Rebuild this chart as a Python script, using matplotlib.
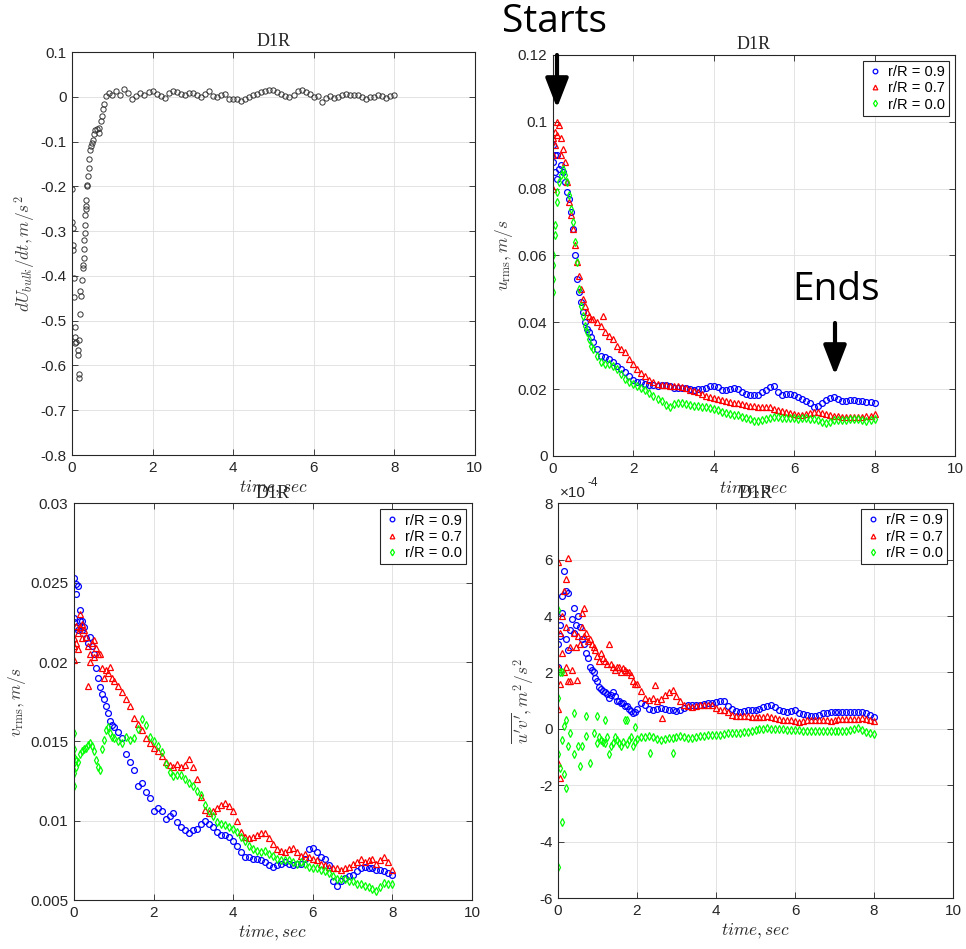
import numpy as np
import matplotlib.pyplot as plt
from matplotlib.ticker import FuncFormatter
from matplotlib.patches import FancyArrowPatch

plt.rcParams["font.family"] = ["Liberation Sans", "DejaVu Sans"]
plt.rcParams["mathtext.fontset"] = "cm"
plt.rcParams["axes.unicode_minus"] = False

#common sample times for the slow part of each record
t_from1 = [1.0, 1.1, 1.2, 1.3, 1.4, 1.5, 1.6, 1.7, 1.8, 1.9,
           2.0, 2.1, 2.2, 2.3, 2.4, 2.5, 2.6, 2.7, 2.8, 2.9,
           3.0, 3.1, 3.2, 3.3, 3.4, 3.5, 3.6, 3.7, 3.8, 3.9,
           4.0, 4.1, 4.2, 4.3, 4.4, 4.5, 4.6, 4.7, 4.8, 4.9,
           5.0, 5.1, 5.2, 5.3, 5.4, 5.5, 5.6, 5.7, 5.8, 5.9,
           6.0, 6.1, 6.2, 6.3, 6.4, 6.5, 6.6, 6.7, 6.8, 6.9,
           7.0, 7.1, 7.2, 7.3, 7.4, 7.5, 7.6, 7.7, 7.8, 7.9,
           8.0]
t_from2 = t_from1[10:]

#dU_bulk/dt
t_dudt_start = [0.0, 0.0, 0.017, 0.033, 0.033, 0.05, 0.05, 0.066, 0.066, 0.083, 0.1, 0.14, 0.157, 0.165,
                0.165, 0.18, 0.2, 0.2, 0.215, 0.24, 0.264, 0.28, 0.29, 0.29, 0.306, 0.32, 0.32, 0.33,
                0.347, 0.347, 0.347, 0.364, 0.38, 0.4, 0.413, 0.43, 0.446, 0.47, 0.5, 0.51, 0.55, 0.58,
                0.61, 0.66, 0.68, 0.72, 0.74, 0.78, 0.8, 0.84, 0.93]
dudt_start = [-0.207, -0.28, -0.293, -0.33, -0.343, -0.405, -0.448, -0.514, -0.55, -0.537, -0.547,
              -0.566, -0.577, -0.618, -0.629, -0.542, -0.485, -0.434, -0.445, -0.409, -0.383, -0.375,
              -0.359, -0.339, -0.319, -0.304, -0.287, -0.263, -0.251, -0.243, -0.23, -0.199, -0.196,
              -0.178, -0.159, -0.14, -0.119, -0.109, -0.103, -0.096, -0.084, -0.075, -0.073, -0.081,
              -0.069, -0.054, -0.043, -0.028, -0.017, 0.001, 0.009]
dudt_rest = [0.005, 0.012, 0.005, 0.018, 0.009, -0.006, 0.001, 0.009, 0.005, 0.010,
             0.012, 0.007, 0.001, -0.003, 0.009, 0.012, 0.010, 0.007, 0.005, 0.009,
             0.009, 0.003, -0.001, 0.007, 0.013, 0.001, 0.000, 0.003, 0.007, -0.006,
             -0.004, -0.004, -0.009, -0.006, 0.000, 0.003, 0.007, 0.010, 0.012, 0.016,
             0.015, 0.010, 0.007, 0.001, 0.000, 0.005, 0.012, 0.015, 0.010, 0.007,
             0.000, 0.001, -0.012, -0.003, 0.001, -0.003, 0.000, 0.003, 0.007, 0.005,
             0.003, 0.005, 0.000, -0.004, -0.001, 0.000, 0.003, 0.001, -0.002, 0.001,
             0.003]

#u_rms, start of record
t_u09_start = [0, 0, 0.05, 0.05, 0.1, 0.1, 0.15, 0.2, 0.25, 0.3, 0.35, 0.4, 0.45, 0.5, 0.55, 0.6, 0.65,
               0.7, 0.75, 0.8, 0.85, 0.9, 0.95, 1.0, 1.1, 1.2, 1.3, 1.4, 1.5, 1.6, 1.7, 1.8, 1.9]
u09_start = [0.088, 0.093, 0.085, 0.09, 0.09, 0.083, 0.086, 0.087, 0.085, 0.082, 0.079, 0.077, 0.073,
             0.068, 0.06, 0.053, 0.049, 0.046, 0.043, 0.04, 0.038, 0.037, 0.0355, 0.034, 0.032, 0.03,
             0.0295, 0.029, 0.028, 0.027, 0.026, 0.025, 0.024]
t_u07_start = [0, 0, 0, 0.05, 0.05, 0.1, 0.1, 0.15, 0.2, 0.2, 0.25, 0.3, 0.35, 0.4, 0.45, 0.5, 0.55,
               0.6, 0.65, 0.7, 0.75, 0.8, 0.85, 0.9, 0.95, 1.0, 1.1, 1.2, 1.25, 1.3, 1.4, 1.5, 1.6,
               1.7, 1.8, 1.9]
u07_start = [0.08, 0.09, 0.095, 0.097, 0.093, 0.1, 0.096, 0.099, 0.095, 0.09, 0.092, 0.088, 0.082,
             0.076, 0.072, 0.068, 0.063, 0.058, 0.054, 0.05, 0.047, 0.045, 0.043, 0.042, 0.041, 0.041,
             0.04, 0.039, 0.042, 0.037, 0.036, 0.035, 0.033, 0.032, 0.031, 0.029]
t_u00_start = [0, 0, 0, 0, 0.05, 0.05, 0.1, 0.1, 0.15, 0.2, 0.25, 0.3, 0.35, 0.4, 0.45, 0.5, 0.55, 0.6,
               0.65, 0.7, 0.75, 0.8, 0.85, 0.9, 0.95, 1.0, 1.1, 1.2, 1.3, 1.4, 1.5, 1.6, 1.7, 1.8, 1.9]
u00_start = [0.049, 0.053, 0.057, 0.06, 0.066, 0.069, 0.076, 0.079, 0.082, 0.084, 0.086, 0.084, 0.082,
             0.078, 0.074, 0.07, 0.064, 0.058, 0.05, 0.045, 0.042, 0.039, 0.037, 0.035, 0.033, 0.032,
             0.03, 0.028, 0.0275, 0.0275, 0.027, 0.026, 0.0245, 0.023, 0.022]

#u_rms from t = 2 s
u09_rest = [0.0228, 0.0222, 0.0220, 0.0216, 0.0213, 0.0212, 0.0210, 0.0212, 0.0213, 0.0208,
            0.0203, 0.0202, 0.0203, 0.0202, 0.0200, 0.0198, 0.0200, 0.0199, 0.0203, 0.0208,
            0.0210, 0.0205, 0.0198, 0.0196, 0.0199, 0.0203, 0.0200, 0.0192, 0.0186, 0.0184,
            0.0183, 0.0184, 0.0190, 0.0198, 0.0205, 0.0208, 0.0192, 0.0183, 0.0186, 0.0186,
            0.0183, 0.0176, 0.0172, 0.0165, 0.0158, 0.0147, 0.0150, 0.0160, 0.0168, 0.0174,
            0.0176, 0.0171, 0.0166, 0.0166, 0.0168, 0.0167, 0.0164, 0.0166, 0.0163, 0.0162,
            0.0158]
u07_rest = [0.0275, 0.0260, 0.0248, 0.0238, 0.0228, 0.0220, 0.0215, 0.0212, 0.0211, 0.0210,
            0.0209, 0.0208, 0.0205, 0.0202, 0.0198, 0.0195, 0.0190, 0.0185, 0.0180, 0.0176,
            0.0173, 0.0171, 0.0168, 0.0165, 0.0163, 0.0160, 0.0158, 0.0156, 0.0152, 0.0150,
            0.0149, 0.0148, 0.0147, 0.0146, 0.0146, 0.0142, 0.0139, 0.0136, 0.0132, 0.0128,
            0.0126, 0.0124, 0.0123, 0.0125, 0.0128, 0.0132, 0.0133, 0.0129, 0.0125, 0.0123,
            0.0120, 0.0119, 0.0118, 0.0118, 0.0117, 0.0118, 0.0118, 0.0118, 0.0120, 0.0120,
            0.0126]
u00_rest = [0.0215, 0.0208, 0.0203, 0.0196, 0.0188, 0.0180, 0.0172, 0.0164, 0.0152, 0.0148,
            0.0155, 0.0160, 0.0158, 0.0156, 0.0153, 0.0151, 0.0150, 0.0148, 0.0146, 0.0143,
            0.0140, 0.0137, 0.0133, 0.0129, 0.0126, 0.0124, 0.0122, 0.0118, 0.0114, 0.0110,
            0.0105, 0.0104, 0.0108, 0.0112, 0.0115, 0.0118, 0.0116, 0.0113, 0.0113, 0.0113,
            0.0113, 0.0112, 0.0113, 0.0113, 0.0112, 0.0110, 0.0107, 0.0102, 0.0098, 0.0102,
            0.0107, 0.0108, 0.0108, 0.0108, 0.0110, 0.0112, 0.0112, 0.0108, 0.0106, 0.0108,
            0.0112]

#v_rms, start of record
t_v09_start = [0, 0, 0, 0.05, 0.05, 0.05, 0.1, 0.1, 0.15, 0.15, 0.2, 0.2, 0.25, 0.3, 0.35, 0.4, 0.45,
               0.5, 0.55, 0.6, 0.65, 0.7, 0.75, 0.8, 0.85, 0.9, 0.95]
v09_start = [0.0253, 0.0225, 0.0228, 0.0249, 0.0243, 0.0222, 0.022, 0.0248, 0.0233, 0.0226, 0.0226,
             0.022, 0.0222, 0.0215, 0.0212, 0.0216, 0.021, 0.0205, 0.0196, 0.019, 0.0184, 0.018,
             0.0177, 0.0172, 0.0168, 0.0163, 0.016]
t_v07_start = [0, 0, 0, 0.05, 0.05, 0.1, 0.1, 0.15, 0.15, 0.2, 0.2, 0.25, 0.3, 0.35, 0.35, 0.4, 0.4,
               0.45, 0.5, 0.5, 0.55, 0.6, 0.65, 0.7, 0.75, 0.8, 0.85, 0.9, 0.95]
v07_start = [0.0201, 0.0215, 0.021, 0.0223, 0.0212, 0.0218, 0.0208, 0.023, 0.0222, 0.0224, 0.0215,
             0.022, 0.0216, 0.0185, 0.021, 0.0205, 0.02, 0.0212, 0.0214, 0.0203, 0.0209, 0.0205,
             0.0205, 0.0196, 0.019, 0.0195, 0.0193, 0.0197, 0.019]
t_v00_start = [0, 0, 0, 0, 0, 0.05, 0.05, 0.1, 0.15, 0.2, 0.25, 0.3, 0.35, 0.4, 0.45, 0.5, 0.55, 0.6,
               0.65, 0.7, 0.75, 0.8, 0.85, 0.9, 0.95]
v00_start = [0.0155, 0.0145, 0.013, 0.0122, 0.014, 0.0134, 0.0138, 0.0137, 0.0142, 0.0144, 0.0145,
             0.0146, 0.0148, 0.0149, 0.0147, 0.0144, 0.0138, 0.0134, 0.0132, 0.0145, 0.0151, 0.0157,
             0.0159, 0.0155, 0.0153]

#v_rms from t = 1 s
v09_rest = [0.0159, 0.0156, 0.0152, 0.0142, 0.0137, 0.0132, 0.0122, 0.0124, 0.0118, 0.0114,
            0.0106, 0.0108, 0.0106, 0.0101, 0.0103, 0.0105, 0.0099, 0.0096, 0.0094, 0.0092,
            0.0094, 0.0095, 0.0098, 0.0100, 0.0098, 0.0096, 0.0093, 0.0091, 0.0091, 0.0090,
            0.0087, 0.0084, 0.0080, 0.0077, 0.0077, 0.0076, 0.0076, 0.0075, 0.0074, 0.0072,
            0.0071, 0.0072, 0.0073, 0.0074, 0.0073, 0.0072, 0.0073, 0.0073, 0.0076, 0.0082,
            0.0083, 0.0080, 0.0077, 0.0076, 0.0072, 0.0062, 0.0059, 0.0062, 0.0064, 0.0065,
            0.0066, 0.0068, 0.0070, 0.0071, 0.0070, 0.0070, 0.0069, 0.0069, 0.0068, 0.0067,
            0.0066]
v07_rest = [0.0188, 0.0185, 0.0181, 0.0177, 0.0172, 0.0165, 0.0161, 0.0157, 0.0152, 0.0149,
            0.0146, 0.0144, 0.0141, 0.0137, 0.0135, 0.0134, 0.0136, 0.0134, 0.0135, 0.0139,
            0.0134, 0.0126, 0.0115, 0.0107, 0.0105, 0.0106, 0.0108, 0.0110, 0.0111, 0.0109,
            0.0106, 0.0100, 0.0093, 0.0090, 0.0089, 0.0090, 0.0091, 0.0092, 0.0092, 0.0089,
            0.0085, 0.0082, 0.0081, 0.0080, 0.0082, 0.0083, 0.0080, 0.0078, 0.0079, 0.0077,
            0.0076, 0.0075, 0.0073, 0.0072, 0.0071, 0.0070, 0.0070, 0.0069, 0.0070, 0.0071,
            0.0073, 0.0074, 0.0076, 0.0074, 0.0075, 0.0076, 0.0073, 0.0075, 0.0077, 0.0074,
            0.0069]
v00_rest = [0.0152, 0.0150, 0.0149, 0.0153, 0.0151, 0.0152, 0.0158, 0.0164, 0.0160, 0.0153,
            0.0150, 0.0147, 0.0143, 0.0136, 0.0131, 0.0128, 0.0129, 0.0129, 0.0126, 0.0124,
            0.0122, 0.0119, 0.0116, 0.0110, 0.0106, 0.0103, 0.0099, 0.0098, 0.0097, 0.0096,
            0.0095, 0.0093, 0.0090, 0.0087, 0.0084, 0.0082, 0.0081, 0.0080, 0.0081, 0.0079,
            0.0078, 0.0076, 0.0075, 0.0075, 0.0075, 0.0074, 0.0073, 0.0074, 0.0073, 0.0071,
            0.0070, 0.0070, 0.0069, 0.0068, 0.0067, 0.0065, 0.0063, 0.0063, 0.0063, 0.0062,
            0.0062, 0.0060, 0.0060, 0.0059, 0.0058, 0.0057, 0.0056, 0.0058, 0.0061, 0.0060,
            0.0060]

#u'v' in units of 1e-4, start of record
t_uv09_start = [0, 0, 0.05, 0.05, 0.1, 0.1, 0.15, 0.2, 0.2, 0.25, 0.25, 0.3, 0.35, 0.4, 0.4, 0.45,
                0.5, 0.55, 0.6, 0.65, 0.7, 0.75, 0.8, 0.85, 0.9, 0.95, 1.0, 1.05, 1.1, 1.15, 1.2,
                1.25, 1.3, 1.35, 1.4, 1.45, 1.5, 1.55, 1.6, 1.65, 1.7, 1.75, 1.8, 1.85, 1.9, 1.95]
uv09_start = [3.0, 2.2, 3.7, 3.3, 4.7, 4.1, 5.6, 4.9, 3.2, 4.8, 2.8, 3.5, 3.9, 4.3, 3.4, 3.7,
              4.0, 3.6, 3.2, 3.0, 2.7, 2.5, 2.2, 2.1, 2.0, 1.8, 1.7, 1.5, 1.4, 1.35, 1.3,
              1.25, 1.1, 1.2, 1.3, 1.15, 1.0, 1.0, 0.9, 0.9, 0.8, 0.8, 0.7, 0.65, 0.55, 0.6]
t_uv07_start = [0, 0, 0, 0, 0.05, 0.05, 0.05, 0.1, 0.1, 0.15, 0.15, 0.2, 0.2, 0.2, 0.25, 0.25, 0.3,
                0.31, 0.35, 0.4, 0.45, 0.48, 0.5, 0.55, 0.6, 0.6, 0.65, 0.67, 0.7, 0.75, 0.8, 0.85,
                0.9, 0.95, 1.0, 1.05, 1.1, 1.15, 1.2, 1.25, 1.3, 1.35, 1.4, 1.45, 1.5, 1.55, 1.6,
                1.65, 1.7, 1.75, 1.8, 1.85, 1.9, 1.95, 2.46, 2.63]
uv07_start = [-1.2, 0.7, 2.2, 5.9, -1.75, 1.6, 3.4, 4.0, 2.7, 4.9, 2.0, 5.3, 3.6, 2.2, 6.05, 1.7, 2.9,
              1.68, 2.1, 3.4, 2.9, 1.73, 3.3, 3.0, 4.1, 3.6, 3.3, 4.28, 3.4, 3.1, 3.2, 3.0,
              2.9, 2.8, 2.6, 2.4, 2.7, 2.5, 2.4, 2.3, 3.0, 2.3, 2.2, 2.1, 2.2, 2.2, 2.0,
              2.15, 2.1, 2.0, 2.0, 1.9, 1.7, 1.6, 1.56, 0.38]
t_uv00_start = [0, 0, 0, 0, 0.05, 0.05, 0.1, 0.1, 0.1, 0.15, 0.15, 0.2, 0.2, 0.25, 0.3, 0.4, 0.4, 0.5,
                0.55, 0.6, 0.7, 0.7, 0.8, 0.9, 1.0, 1.0, 1.05, 1.1, 1.15, 1.2, 1.2, 1.25, 1.3, 1.35,
                1.4, 1.45, 1.5, 1.55, 1.6, 1.65, 1.7, 1.74, 1.75, 1.8, 1.85, 1.9, 1.95, 1.95, 2.33,
                2.92]
uv00_start = [4.2, -4.9, 1.1, -0.9, 2.0, -1.4, -3.3, 2.0, -0.4, -1.6, 0.1, -2.1, 0.3, -0.6, -0.15,
              0.55, -0.9, -0.6, -1.3, -0.6, 0.45, -0.25, -1.2, -0.15, 0.45, -0.5, -0.3, -0.4, -0.45,
              0.3, -0.5, -0.3, -0.9, -0.6, -0.5, -0.3, -0.4, -0.5, -0.6, -0.45, 0.3, 0.32, -0.55,
              -0.4, -0.3, -0.6, -0.45, 0.08, -0.86, -0.86]

#u'v' from t = 2 s
uv09_rest = [0.70, 0.90, 0.85, 0.70, 0.68, 0.72, 0.73, 0.72, 0.68, 0.66,
             0.64, 0.67, 0.75, 0.83, 0.85, 0.84, 0.85, 0.87, 0.90, 0.93,
             0.96, 1.00, 0.98, 0.80, 0.70, 0.64, 0.61, 0.63, 0.66, 0.67,
             0.67, 0.72, 0.78, 0.82, 0.85, 0.76, 0.68, 0.62, 0.61, 0.65,
             0.67, 0.57, 0.52, 0.49, 0.46, 0.44, 0.50, 0.55, 0.57, 0.58,
             0.59, 0.60, 0.61, 0.60, 0.61, 0.61, 0.61, 0.58, 0.55, 0.50,
             0.42]
uv07_rest = [1.60, 1.35, 1.10, 1.03, 1.08, 0.98, 1.05, 1.20, 1.30, 1.36,
             1.15, 1.00, 0.86, 0.80, 0.79, 0.80, 0.83, 0.85, 0.85, 0.84,
             0.75, 0.68, 0.67, 0.58, 0.49, 0.46, 0.44, 0.44, 0.44, 0.43,
             0.42, 0.41, 0.42, 0.44, 0.43, 0.38, 0.34, 0.33, 0.32, 0.30,
             0.28, 0.26, 0.28, 0.30, 0.32, 0.32, 0.32, 0.31, 0.30, 0.29,
             0.31, 0.34, 0.35, 0.36, 0.36, 0.36, 0.36, 0.38, 0.36, 0.32,
             0.28]
uv00_rest = [-0.35, -0.30, -0.28, -0.27, -0.30, -0.36, -0.39, -0.36, -0.33, -0.31,
             -0.29, -0.27, -0.30, -0.33, -0.31, -0.29, -0.27, -0.24, -0.22, -0.21,
             -0.21, -0.21, -0.19, -0.16, -0.15, -0.15, -0.15, -0.12, -0.10, -0.08,
             -0.05, -0.01, 0.00, 0.02, 0.01, 0.00, -0.01, -0.02, -0.04, -0.04,
             -0.04, -0.04, -0.06, -0.08, -0.09, -0.07, -0.06, -0.06, -0.06, -0.06,
             -0.07, -0.09, -0.08, -0.06, -0.05, -0.02, 0.02, -0.05, -0.10, -0.15,
             -0.20]

labels = ["r/R = 0.9", "r/R = 0.7", "r/R = 0.0"]
styles = [("o", "#0000ff"), ("^", "#ff0000"), ("d", "#00ff00")]

fig = plt.figure(figsize=(9.66, 9.49), dpi=100)
ax1 = fig.add_axes([0.0745, 0.5205, 0.417, 0.4247])
ax2 = fig.add_axes([0.5725, 0.5195, 0.416, 0.4226])
ax3 = fig.add_axes([0.0766, 0.0516, 0.412, 0.418])
ax4 = fig.add_axes([0.5776, 0.0537, 0.409, 0.416])

def setup(ax, ylim, yticks, ylabel):
    ax.set_xlim(0, 10)
    ax.set_xticks(range(0, 11, 2))
    ax.set_ylim(*ylim)
    ax.set_yticks(yticks)
    ax.yaxis.set_major_formatter(FuncFormatter(lambda v, p: f"{round(v, 6) + 0.0:g}"))
    ax.tick_params(direction="in", top=True, right=True, length=4, width=0.6,
                   labelsize=11, colors="#262626", pad=4)
    ax.grid(True, color="#dedede", lw=0.6)
    ax.set_axisbelow(True)
    for s in ax.spines.values():
        s.set_color("#262626")
        s.set_linewidth(0.8)
    ax.set_title("D1R", fontfamily="Liberation Serif", fontsize=13, pad=4, color="#262626")
    ax.set_xlabel(r"$time, sec$", fontsize=12.5, color="#262626", labelpad=3)
    ax.set_ylabel(ylabel, fontsize=12.5, color="#404040", labelpad=2)

def scatter3(ax, series):
    for (t, v), lab, (m, c) in zip(series, labels, styles):
        ax.plot(t, v, ls="none", marker=m, mfc="none", mec=c, ms=4.2, mew=0.9, label=lab)
    leg = ax.legend(loc="upper right", fontsize=10.5, fancybox=False, framealpha=1,
                    edgecolor="#262626", borderaxespad=0.4, handlelength=1.0,
                    handletextpad=0.4, borderpad=0.3, labelspacing=0.15, markerscale=0.8)
    leg.get_frame().set_linewidth(0.8)

ax1.plot(t_dudt_start + t_from1, dudt_start + dudt_rest, ls="none", marker="o", mfc="none",
         mec="#333333", ms=3.8, mew=0.7)
setup(ax1, (-0.8, 0.1), np.arange(-0.8, 0.11, 0.1), r"$dU_{bulk}/dt, m/s^2$")

scatter3(ax2, [(t_u09_start + t_from2, u09_start + u09_rest),
               (t_u07_start + t_from2, u07_start + u07_rest),
               (t_u00_start + t_from2, u00_start + u00_rest)])
setup(ax2, (0, 0.12), np.arange(0, 0.121, 0.02), r"$u_{\rm rms}, m/s$")

scatter3(ax3, [(t_v09_start + t_from1, v09_start + v09_rest),
               (t_v07_start + t_from1, v07_start + v07_rest),
               (t_v00_start + t_from1, v00_start + v00_rest)])
setup(ax3, (0.005, 0.03), np.arange(0.005, 0.0301, 0.005), r"$v_{\rm rms}, m/s$")

scatter3(ax4, [(t_uv09_start + t_from2, uv09_start + uv09_rest),
               (t_uv07_start + t_from2, uv07_start + uv07_rest),
               (t_uv00_start + t_from2, uv00_start + uv00_rest)])
setup(ax4, (-6, 8), range(-6, 9, 2), r"$\overline{u'v'}, m^2/s^2$")
ax4.text(0.005, 1.008, "×10", transform=ax4.transAxes, fontsize=11, color="#262626",
         ha="left", va="bottom")
ax4.text(0.075, 1.035, "-4", transform=ax4.transAxes, fontsize=8.5, color="#262626",
         ha="left", va="bottom")

#Start / end markers
fig.text(555 / 966, 1 - 22 / 949, "Starts", fontsize=28, family="Open Sans",
         ha="center", va="center")
fig.text(836 / 966, 1 - 290 / 949, "Ends", fontsize=28, family="Open Sans",
         ha="center", va="center")
for x, y0, y1 in [(557, 55, 108), (835, 323, 375)]:
    arr = FancyArrowPatch((x / 966, 1 - y0 / 949), (x / 966, 1 - y1 / 949),
                          transform=fig.transFigure, arrowstyle="-|>,head_length=0.9,head_width=0.35",
                          mutation_scale=20, lw=3, color="black", shrinkA=0, shrinkB=0)
    fig.add_artist(arr)

fig.savefig("out.png", dpi=100)
